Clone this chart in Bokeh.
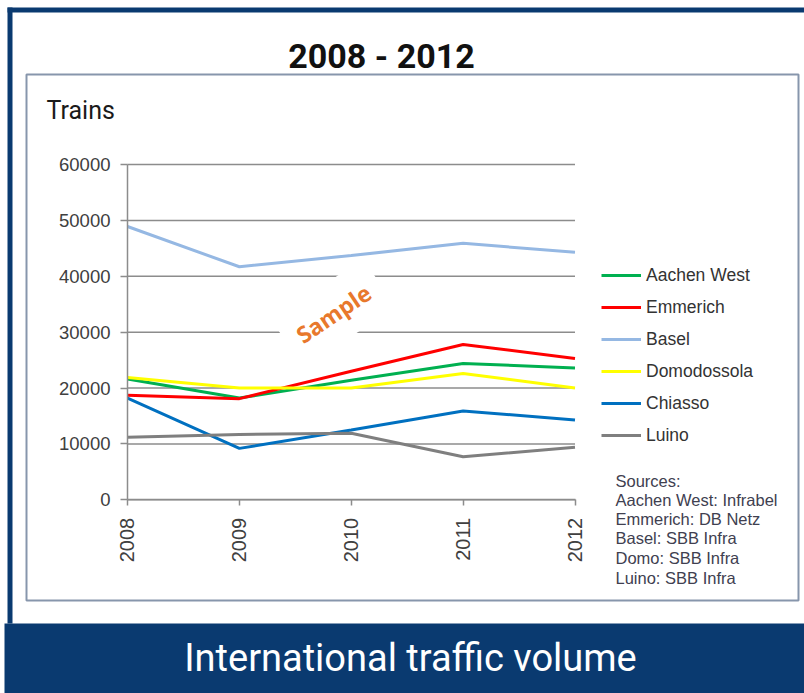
import math
from bokeh.plotting import figure
from bokeh.models import (BoxAnnotation, Label, Legend, LegendItem, FixedTicker,
                          Range1d, LinearAxis)
from bokeh.embed import file_html
from bokeh.resources import INLINE

# ---------------- data ----------------
years = [2008, 2009, 2010, 2011, 2012]
aachen_west = [21600, 18200, 21400, 24400, 23600]
emmerich = [18700, 18100, 23000, 27800, 25300]
basel = [48900, 41700, 43700, 45900, 44300]
domodossola = [21900, 20000, 20000, 22600, 20000]
chiasso = [18200, 9200, 12500, 15900, 14300]
luino = [11200, 11700, 11900, 7700, 9400]

series_names = ["Aachen West", "Emmerich", "Basel", "Domodossola", "Chiasso", "Luino"]
series_values = [aachen_west, emmerich, basel, domodossola, chiasso, luino]
series_colors = ["#00b050", "#ff0000", "#95b8e3", "#ffff00", "#0070c0", "#7f7f7f"]

y_ticks = [0, 10000, 20000, 30000, 40000, 50000, 60000]
title_text = "2008 - 2012"
y_title = "Trains"
footer_text = "International traffic volume"
watermark = "Sample"
sources = ["Sources:", "Aachen West: Infrabel", "Emmerich: DB Netz",
           "Basel: SBB Infra", "Domo: SBB Infra", "Luino: SBB Infra"]

# ---------------- layout geometry (pixels) ----------------
W, H = 804, 693
PX_LEFT, PX_RIGHT = 127.0, 574.5      # pixel of first / last year
PY_TOP, PY_BOTTOM = 164.0, 499.3      # pixel of max / min y tick

x0, x1 = years[0], years[-1]
ylo, yhi = y_ticks[0], y_ticks[-1]
ppx = (PX_RIGHT - PX_LEFT) / (x1 - x0)
ppy = (PY_BOTTOM - PY_TOP) / (yhi - ylo)
x_range = Range1d(x0 - PX_LEFT / ppx, x0 + (W - PX_LEFT) / ppx)
y_range = Range1d(ylo - (H - PY_BOTTOM) / ppy, ylo + PY_BOTTOM / ppy)

p = figure(width=W, height=H, output_backend="svg", toolbar_location=None,
           x_range=x_range, y_range=y_range,
           x_axis_location=None, y_axis_location=None,
           min_border=0)
p.title.visible = False
p.outline_line_color = None
p.background_fill_color = "white"
p.border_fill_color = "white"
p.grid.visible = False

# gridlines (from the tick list)
p.segment(x0=[x0] * len(y_ticks), x1=[x1] * len(y_ticks), y0=y_ticks, y1=y_ticks,
          line_color="#8c8c8c", line_width=1.5)

# axes
xaxis = LinearAxis(ticker=FixedTicker(ticks=years), fixed_location=ylo, bounds=(x0, x1))
yaxis = LinearAxis(ticker=FixedTicker(ticks=y_ticks), fixed_location=x0, bounds=(ylo, yhi))
for ax in (xaxis, yaxis):
    ax.axis_line_color = "#8c8c8c"
    ax.axis_line_width = 1.5
    ax.major_tick_line_color = "#8c8c8c"
    ax.major_tick_line_width = 1.5
    ax.major_tick_in = 0
    ax.minor_tick_line_color = None
    ax.major_label_text_font = "Liberation Sans"
    ax.major_label_text_color = "#404040"
xaxis.major_label_orientation = math.pi / 2
yaxis.major_tick_out = 7
yaxis.major_label_standoff = 10
yaxis.major_label_text_font_size = "18.5px"
xaxis.major_tick_out = 6
xaxis.major_label_standoff = 12
xaxis.major_label_text_font_size = "20px"
p.add_layout(xaxis, "below")
p.add_layout(yaxis, "left")

# lines
items = []
for name, vals, col in zip(series_names, series_values, series_colors):
    r = p.line(years, vals, line_color=col, line_width=3)
    items.append(LegendItem(label=name, renderers=[r]))

legend = Legend(items=items, location=(601, H - 446), padding=0, margin=0, spacing=10,
                glyph_width=40, glyph_height=22, label_height=22, label_standoff=5,
                border_line_color=None, background_fill_alpha=0,
                label_text_font="Liberation Sans", label_text_font_size="17.5px",
                label_text_color="#333333")
p.add_layout(legend)

# ---------------- decorations (picture pixel coords) ----------------
navy = "#0a3a70"
def box(l, r, t, b, **kw):
    p.add_layout(BoxAnnotation(left=l, right=r, top=t, bottom=b,
                               left_units="canvas", right_units="canvas",
                               top_units="canvas", bottom_units="canvas", **kw))

box(7, W, 7, 12, fill_color=navy, fill_alpha=1, line_color=None)
box(7, 12, 7, 623, fill_color=navy, fill_alpha=1, line_color=None)
box(4, W, 623, H, fill_color=navy, fill_alpha=1, line_color=None)
box(26, 798, 74, 600, fill_alpha=0, line_color="#8796ac", line_alpha=1, line_width=2)

def label(text, x, y, **kw):
    p.add_layout(Label(text=text, x=x, y=y, x_units="canvas", y_units="canvas",
                       text_baseline="middle", **kw))

label(title_text, 381, 55, text_align="center",
      text_font="Roboto", text_font_style="bold", text_font_size="34px", text_color="#111111")
label(y_title, 46, 110, text_align="left",
      text_font="Roboto", text_font_size="25px", text_color="#1a1a1a")
label(footer_text, 410, 657, text_align="center",
      text_font="Roboto", text_font_size="38px", text_color="white")
label(watermark, 333, 313, text_align="center",
      angle=34, angle_units="deg", text_font="Open Sans", text_font_style="bold",
      text_font_size="23px", text_color="#e8782c",
      background_fill_color="white", background_fill_alpha=1, padding=13)

src_y = [480, 499, 518, 537, 557, 577]
for t, yy in zip(sources, src_y):
    label(t, 615, yy, text_align="left",
          text_font="Liberation Sans", text_font_size="16.5px", text_color="#404050")

open("out.html", "w").write(file_html(p, INLINE))
